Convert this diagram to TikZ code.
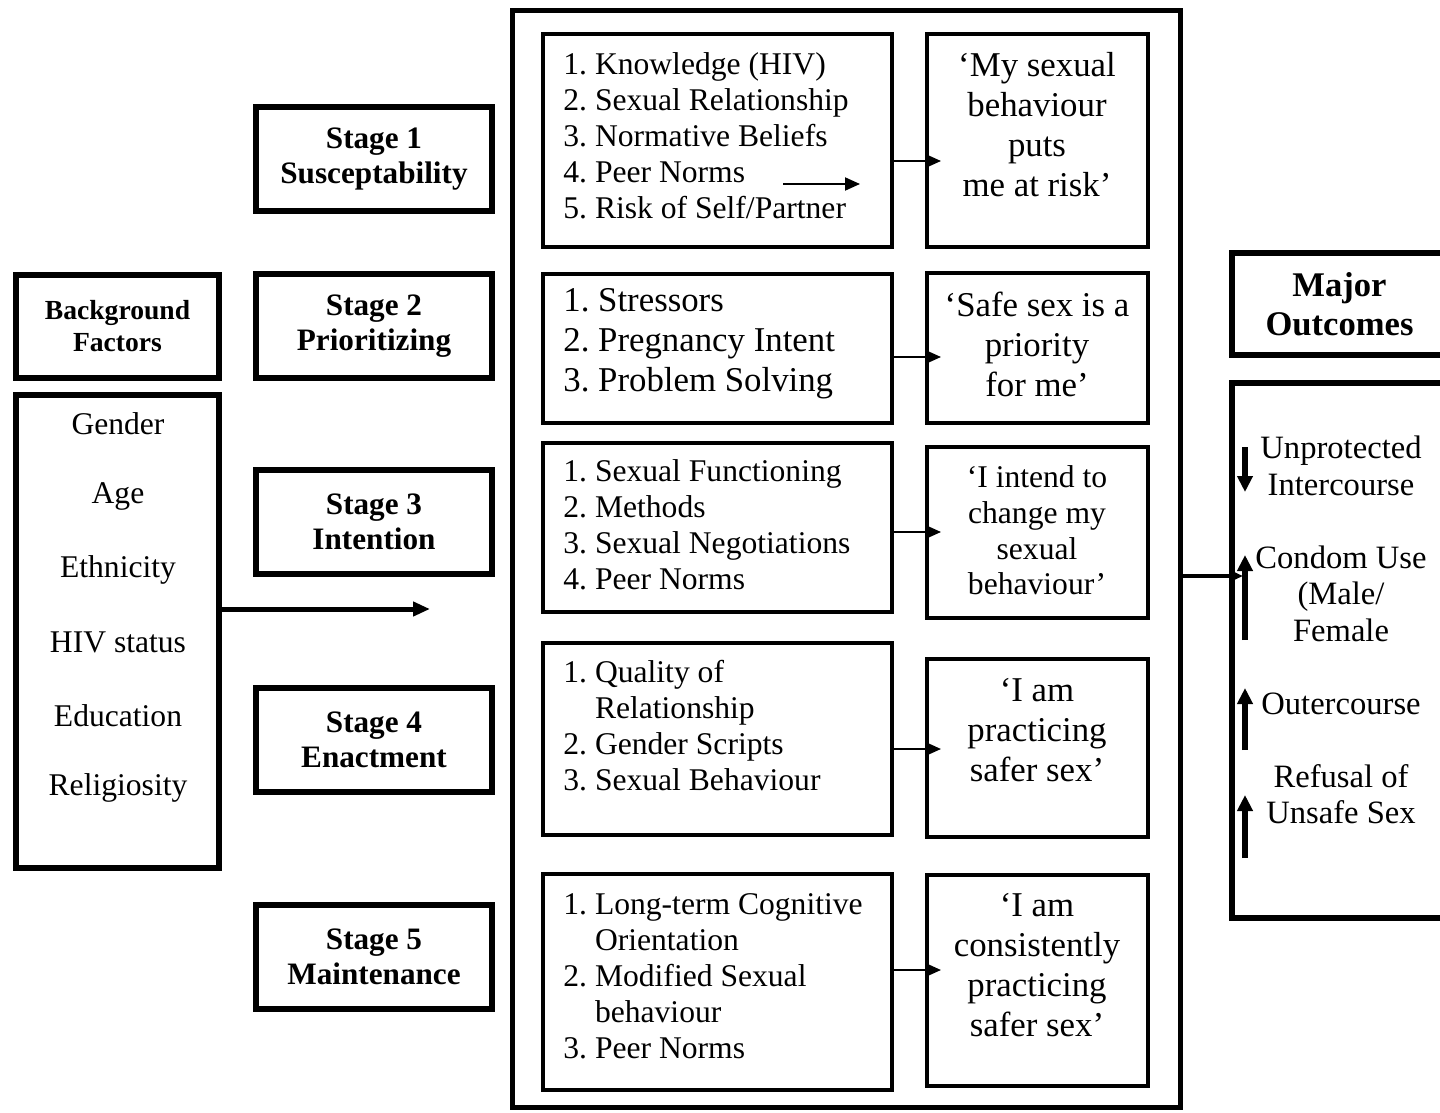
\documentclass[tikz,border=0pt]{standalone}
\usepackage{fontspec}
\setmainfont{Liberation Serif}
\usepackage{tikz}
\usetikzlibrary{positioning,calc,arrows.meta}
\newcommand{\fsz}[2]{\fontsize{#1}{#2}\selectfont}
\frenchspacing
\tikzset{
  sz/.style 2 args={minimum width=#1*0.5pt, minimum height=#2*0.5pt},
  heavy/.style={draw, line width=3pt, inner sep=0pt},
  frame/.style={draw, line width=2.5pt, inner sep=0pt},
  cell/.style={draw, line width=2pt, inner sep=0pt},
  listtxt/.style={anchor=west, align=left, inner sep=0pt},
  quotetxt/.style={align=center, inner sep=0pt},
  thinarr/.style={line width=1pt, -{Triangle[length=7.5pt,width=6.5pt]}},
  thickarr/.style={line width=2.5pt, -{Triangle[length=8.5pt,width=7pt]}},
  trend/.style={line width=2.8pt, -{Triangle[length=8pt,width=7.5pt]}}
}

\begin{document}
\begin{tikzpicture}[x=0.5pt, y=-0.5pt]
  \useasboundingbox (0,0) rectangle (1440,1113);

  % background factors
  \node[heavy, sz={203}{103}, font=\fsz{13.8}{16}\bfseries, align=center] (bgtitle) at (117.5,326.5) {Background\\Factors};
  \node[heavy, sz={203}{473}] (bglist) at (117.5,631.5) {};
  \foreach \f [count=\i from 0] in {Gender,Age,Ethnicity,HIV status,Education,Religiosity}
    \node[font=\fsz{15.8}{18}, inner sep=0pt] (fac\i) at (118,424+72.8*\i) {\f};

  % stages
  \foreach \n/\s/\y in {1/Susceptability/159, 2/Prioritizing/326, 3/Intention/522,
                        4/Enactment/740, 5/Maintenance/957}
    \node[heavy, sz={236}{104}, font=\fsz{15.6}{17.5}\bfseries, align=center] (stage\n) at (374,\y) {Stage \n\\\s};

  % central frame with the ten boxes
  \node[frame, sz={668}{1097}] (mid) at (846.5,559) {};
  \foreach \n/\y/\h in {1/140.5/213, 2/348.5/149, 3/527.5/169, 4/739/192, 5/982/216}
    \node[cell, sz={349}{\h}] (lst\n) at (717.5,\y) {};
  \foreach \n/\y/\h in {1/140.5/213, 2/348/150, 3/532.5/171, 4/748/178, 5/980.5/211}
    \node[cell, sz={221}{\h}] (quo\n) at (1037.5,\y) {};

  \node[listtxt, font=\fsz{15.8}{18}] (lt1) at (563,136)
    {1. Knowledge (HIV)\\2. Sexual Relationship\\3. Normative Beliefs\\4. Peer Norms\\5. Risk of Self/Partner};
  \node[listtxt, font=\fsz{17.4}{20}] (lt2) at (563,344)
    {1. Stressors\\2. Pregnancy Intent\\3. Problem Solving};
  \node[listtxt, font=\fsz{15.8}{18}] (lt3) at (563,525)
    {1. Sexual Functioning\\2. Methods\\3. Sexual Negotiations\\4. Peer Norms};
  \node[listtxt, font=\fsz{15.8}{18}] (lt4) at (563,726)
    {1. Quality of\\\hphantom{1. }Relationship\\2. Gender Scripts\\3. Sexual Behaviour};
  \node[listtxt, font=\fsz{15.8}{18}] (lt5) at (563,976)
    {1. Long-term Cognitive\\\hphantom{1. }Orientation\\2. Modified Sexual\\\hphantom{2. }behaviour\\3. Peer Norms};

  \node[quotetxt, font=\fsz{17.4}{20}] (qt1) at (1037,125) {‘My sexual\\behaviour\\puts\\me at risk’};
  \node[quotetxt, font=\fsz{17.4}{20}] (qt2) at (1037,344) {‘Safe sex is a\\priority\\for me’};
  \node[quotetxt, font=\fsz{15.8}{17.85}] (qt3) at (1037,530.5) {‘I intend to\\change my\\sexual\\behaviour’};
  \node[quotetxt, font=\fsz{17.4}{20}] (qt4) at (1037,730) {‘I am\\practicing\\safer sex’};
  \node[quotetxt, font=\fsz{17.4}{20}] (qt5) at (1037,965) {‘I am\\consistently\\practicing\\safer sex’};

  \foreach \n/\ay in {1/161, 2/357, 3/532, 4/749, 5/970}
    \draw[thinarr] (lst\n.east |- 0,\ay) -- ($(quo\n.west |- 0,\ay)+(16,0)$);
  \coordinate (pn1) at (783,184);
  \coordinate (pn2) at (860,184);
  \draw[thinarr] (pn1) -- (pn2);

  % outcomes
  \node[heavy, sz={215}{102}, font=\fsz{17.3}{19.5}\bfseries, align=center] (majtitle) at (1339.5,304) {Major\\Outcomes};
  \node[heavy, sz={215}{535}] (outlist) at (1339.5,650.5) {};
  \node[quotetxt, font=\fsz{16.3}{18.25}] (outtxt) at (1341,630)
    {Unprotected\\Intercourse\\[18.25pt]Condom Use\\(Male/\\Female\\[18.25pt]Outercourse\\[18.25pt]Refusal of\\Unsafe Sex};
  \foreach \a/\b in {447/492, 640/555, 750/688, 858/795}
    \draw[trend] (1245,\a) -- (1245,\b);

  % main flow
  \coordinate (bgtip) at (430,609);
  \draw[thickarr] (bglist.east |- bgtip) -- (bgtip);
  \draw[line width=2pt, -{Triangle[length=7pt,width=6pt]}] (mid.east |- 0,576) -- ($(outlist.west |- 0,576)+(14,0)$);
\end{tikzpicture}
\end{document}
